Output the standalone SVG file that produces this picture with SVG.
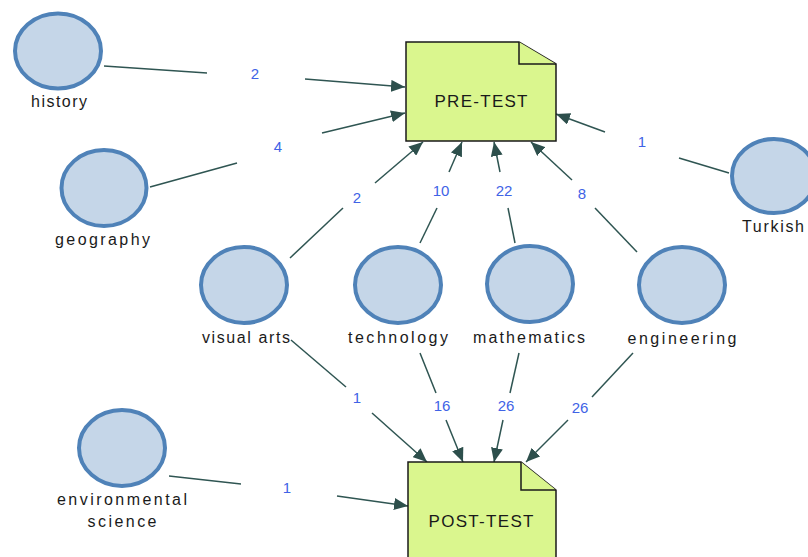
<svg xmlns="http://www.w3.org/2000/svg" width="808" height="557" viewBox="0 0 808 557">
<style>
.c{fill:#c5d6e8;stroke:#4f82b8;stroke-width:4}
.lb{font-family:"Liberation Sans",Arial,sans-serif;font-size:16px;fill:#1a1a1a;text-anchor:middle}
.doc{fill:#daf68e;stroke:#1a1a1a;stroke-width:1.5}
.dt{font-family:"Liberation Sans",Arial,sans-serif;font-size:17px;fill:#1a1a1a;text-anchor:middle}
.e{stroke:#2f5552;stroke-width:1.5;fill:none}
.el{font-family:"Liberation Sans",Arial,sans-serif;font-size:15px;fill:#4063e6;text-anchor:middle}
</style>
<defs>
<marker id="arr" markerUnits="userSpaceOnUse" markerWidth="15" markerHeight="12" refX="14" refY="6" orient="auto">
<path d="M0,0 L14,6 L0,12 z" fill="#2d4f4c"/>
</marker>
</defs>
<rect width="808" height="557" fill="#ffffff"/>
<g id="connectors">
<line class="e" x1="104" y1="66" x2="207" y2="73"/>
<line class="e" x1="305" y1="79" x2="405" y2="87" marker-end="url(#arr)"/>
<text class="el" x="255" y="79">2</text>
<line class="e" x1="150" y1="187" x2="237" y2="163"/>
<line class="e" x1="322" y1="133" x2="405" y2="113" marker-end="url(#arr)"/>
<text class="el" x="278" y="152">4</text>
<line class="e" x1="290" y1="258" x2="343" y2="208"/>
<line class="e" x1="375" y1="183" x2="423" y2="142" marker-end="url(#arr)"/>
<text class="el" x="357" y="203">2</text>
<line class="e" x1="420" y1="243" x2="437" y2="208"/>
<line class="e" x1="449" y1="172" x2="462" y2="142" marker-end="url(#arr)"/>
<text class="el" x="441" y="196">10</text>
<line class="e" x1="515" y1="243" x2="508" y2="208"/>
<line class="e" x1="500" y1="172" x2="494" y2="142" marker-end="url(#arr)"/>
<text class="el" x="504" y="196">22</text>
<line class="e" x1="637" y1="252" x2="595" y2="208"/>
<line class="e" x1="572" y1="180" x2="531" y2="142" marker-end="url(#arr)"/>
<text class="el" x="582" y="199">8</text>
<line class="e" x1="729" y1="173" x2="679" y2="158"/>
<line class="e" x1="605" y1="132" x2="556" y2="114" marker-end="url(#arr)"/>
<text class="el" x="642" y="147">1</text>
<line class="e" x1="291" y1="340" x2="346" y2="387"/>
<line class="e" x1="372" y1="413" x2="427" y2="462" marker-end="url(#arr)"/>
<text class="el" x="357" y="403">1</text>
<line class="e" x1="420" y1="353" x2="436" y2="393"/>
<line class="e" x1="446" y1="420" x2="463" y2="462" marker-end="url(#arr)"/>
<text class="el" x="442" y="411">16</text>
<line class="e" x1="519" y1="353" x2="510" y2="393"/>
<line class="e" x1="503" y1="420" x2="494" y2="462" marker-end="url(#arr)"/>
<text class="el" x="506" y="411">26</text>
<line class="e" x1="633" y1="353" x2="592" y2="397"/>
<line class="e" x1="568" y1="420" x2="526" y2="462" marker-end="url(#arr)"/>
<text class="el" x="580" y="413">26</text>
<line class="e" x1="169" y1="476" x2="241" y2="484"/>
<line class="e" x1="337" y1="496" x2="408" y2="506" marker-end="url(#arr)"/>
<text class="el" x="287" y="493">1</text>
</g>
<g id="history"><ellipse class="c" cx="58" cy="51" rx="43" ry="37.5"/><text class="lb" x="59" y="107" textLength="56" lengthAdjust="spacing">history</text></g>
<g id="geography"><ellipse class="c" cx="104" cy="188" rx="42.5" ry="38"/><text class="lb" x="102.5" y="245" textLength="95" lengthAdjust="spacing">geography</text></g>
<g id="turkish"><ellipse class="c" cx="774" cy="176" rx="42" ry="37"/><text class="lb" x="773" y="232" textLength="62" lengthAdjust="spacing">Turkish</text></g>
<g id="visual-arts"><ellipse class="c" cx="244" cy="285" rx="43" ry="38"/><text class="lb" x="246" y="343" textLength="88" lengthAdjust="spacing">visual arts</text></g>
<g id="technology"><ellipse class="c" cx="398" cy="285" rx="43" ry="38"/><text class="lb" x="398" y="343" textLength="100" lengthAdjust="spacing">technology</text></g>
<g id="mathematics"><ellipse class="c" cx="530" cy="284" rx="43" ry="38"/><text class="lb" x="529" y="343" textLength="112" lengthAdjust="spacing">mathematics</text></g>
<g id="engineering"><ellipse class="c" cx="682" cy="285" rx="43" ry="38"/><text class="lb" x="682" y="344" textLength="109" lengthAdjust="spacing">engineering</text></g>
<g id="environmental-science"><ellipse class="c" cx="122" cy="448" rx="43" ry="38"/><text class="lb" x="122" y="505" textLength="130" lengthAdjust="spacing">environmental</text><text class="lb" x="122" y="527" textLength="69" lengthAdjust="spacing">science</text></g>
<g id="pre-test"><path class="doc" d="M406,42 H519 L556,64 V141 H406 Z"/><path class="doc" d="M519,42 V64 H556"/><text class="dt" x="481" y="107" textLength="93" lengthAdjust="spacing">PRE-TEST</text></g>
<g id="post-test"><path class="doc" d="M408,462 H521 L556,490 V562 H408 Z"/><path class="doc" d="M521,462 V490 H556"/><text class="dt" x="481" y="527" textLength="105" lengthAdjust="spacing">POST-TEST</text></g>
</svg>
